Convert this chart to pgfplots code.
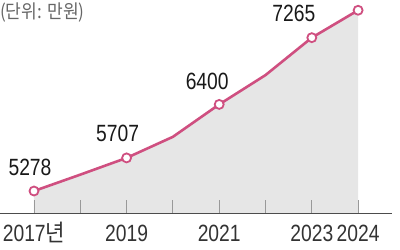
\documentclass[border=0pt]{standalone}
\usepackage{pgfplots}
\pgfplotsset{compat=1.18}
\usepackage{fontspec}
\setmainfont[FakeStretch=0.82]{Liberation Sans}
\newfontfamily\kr[FakeStretch=0.9]{Noto Sans CJK KR}
\definecolor{linec}{HTML}{CF4F80}
\definecolor{fillc}{HTML}{E6E6E6}
\begin{document}
\begin{tikzpicture}
\useasboundingbox (0,0) rectangle (400bp,250bp);
\begin{axis}[
 at={(0,37bp)}, anchor=south west,
 scale only axis, width=392bp, height=213bp,
 xmin=2016.266, xmax=2024.732, ymin=4993, ymax=7753,
 axis x line=bottom, axis y line=none,
 axis line style={-, draw=black!70, line width=1bp},
 xtick={2017,2018,2019,2020,2021,2022,2023,2024},
 xticklabels={2017{\kr 년},,2019,,2021,,2023,2024},
 tick align=inside, major tick length=13bp,
 tick style={draw=black!40, line width=0.8bp},
 xticklabel style={font=\fontsize{23.5bp}{24bp}\selectfont, text=black!80, text height=17bp, text depth=0pt, inner sep=0pt, yshift=-11bp},
 ytick=\empty,
 axis on top, clip=false
]
\addplot[fill=fillc, draw=none] coordinates {(2017,4993)(2017,5278)(2018,5490)(2019,5707)(2020,5980)(2021,6400)(2022,6780)(2023,7265)(2024,7620)(2024,4993)} -- cycle;
\addplot[linec, line width=2.6bp, mark=*, mark indices={1,3,5,7,8}, mark size=4.5bp, mark options={fill=white, draw=linec, line width=1.8bp}] coordinates {(2017,5278)(2018,5490)(2019,5707)(2020,5980)(2021,6400)(2022,6780)(2023,7265)(2024,7620)};
\node[font=\fontsize{23.5bp}{24bp}\selectfont, text=black!90, xshift=-4bp, yshift=24bp] at (axis cs:2017,5278) {5278};
\node[font=\fontsize{23.5bp}{24bp}\selectfont, text=black!90, xshift=-9bp, yshift=24bp] at (axis cs:2019,5707) {5707};
\node[font=\fontsize{23.5bp}{24bp}\selectfont, text=black!90, xshift=-12bp, yshift=23bp] at (axis cs:2021,6400) {6400};
\node[font=\fontsize{23.5bp}{24bp}\selectfont, text=black!90, xshift=-18bp, yshift=24bp] at (axis cs:2023,7265) {7265};
\end{axis}
\node[anchor=north west, inner sep=0pt, font=\kr\fontsize{19bp}{19bp}\selectfont, text=black!60] at (0bp,247bp) {(단위: 만원)};
\end{tikzpicture}
\end{document}
